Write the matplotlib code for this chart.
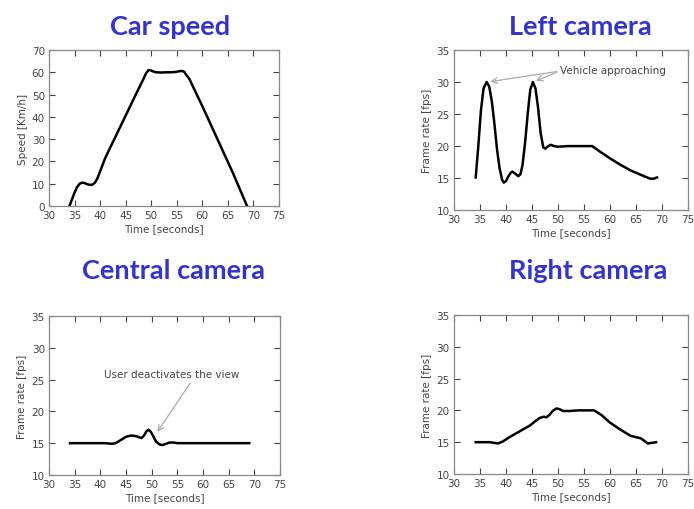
import matplotlib
matplotlib.use("Agg")
import matplotlib.pyplot as plt

# Car speed [Km/h]
speed_t = [34, 34.5, 35, 35.5, 36, 36.5, 37, 37.5, 38, 38.5, 39, 39.5, 40, 41, 43, 45, 47, 48.5,
           49, 49.5, 50, 50.5, 51, 52, 53, 54, 55, 55.5, 56, 56.5, 57, 57.5, 60, 63, 66, 68.8]
speed_v = [0, 3, 6, 8.5, 10, 10.5, 10.3, 9.8, 9.5, 9.6, 10.5, 12.5, 15.5, 21.5, 31, 40.5, 50, 57,
           59.5, 61, 60.8, 60.3, 60, 59.9, 60, 60, 60.2, 60.5, 60.6, 60.2, 58.5, 57, 45, 30, 15, 0]

# Left camera frame rate [fps]
left_t = [34.2, 34.7, 35.2, 35.7, 36.3, 36.8, 37.3, 37.8, 38.3, 38.8, 39.3, 39.6, 40, 40.5, 41, 41.3,
          41.8, 42.4, 42.8, 43.2, 43.7, 44.2, 44.7, 45.2, 45.7, 46.2, 46.7, 47.2, 47.6, 48, 48.6, 49.3,
          50, 52, 54, 56, 56.6, 58, 60, 62, 64, 66, 67.2, 67.8, 68.4, 69.1]
left_v = [15.1, 20, 25.5, 29, 30, 29.3, 27, 23.5, 19.5, 16.5, 14.7, 14.3, 14.5, 15.3, 15.9, 16,
          15.7, 15.3, 15.6, 17, 20.5, 25, 28.8, 30, 29, 26, 22, 19.8, 19.6, 19.9, 20.2, 20,
          19.9, 20, 20, 20, 20, 19.2, 18.1, 17.1, 16.2, 15.5, 15.1, 14.9, 14.9, 15.1]

# Central camera frame rate [fps]
central_t = [34.1, 36, 38, 40, 41, 42.2, 43, 44, 45, 46, 47, 48, 48.5, 49, 49.4, 49.8, 50.3, 50.8,
             51.5, 52.1, 52.8, 53.5, 54.2, 55, 58, 62, 66, 69]
central_v = [15, 15, 15, 15, 15, 14.9, 15, 15.5, 16, 16.2, 16.1, 15.8, 16.2, 16.9, 17.1, 16.8, 16.1, 15.3,
             14.8, 14.7, 14.9, 15.1, 15.1, 15, 15, 15, 15, 15]

# Right camera frame rate [fps]
right_t = [34.2, 35.5, 36.9, 38.5, 39.4, 40.5, 42, 43.5, 44.6, 45.5, 46.5, 47.3, 47.8, 48.4, 49,
           49.7, 50.3, 51, 52.2, 54, 56, 57, 58.5, 60, 62, 64, 66, 67.3, 68.2, 68.9]
right_v = [15, 15, 15, 14.8, 15.1, 15.7, 16.4, 17.1, 17.6, 18.2, 18.8, 19, 18.9, 19.3, 19.9,
           20.3, 20.2, 19.9, 19.9, 20, 20, 20, 19.2, 18.1, 17, 16, 15.6, 14.8, 14.9, 15]

xticks = [30, 35, 40, 45, 50, 55, 60, 65, 70, 75]
frame_col = "#888888"
tick_col = "#444444"
title_col = "#3434c8"

fig = plt.figure(figsize=(6.94, 5.1), dpi=100)


def style(ax, ylim, ystep, ylabel):
    ax.set_xlim(30, 75)
    ax.set_ylim(*ylim)
    ax.set_xticks(xticks)
    ax.set_yticks(range(ylim[0], ylim[1] + 1, ystep))
    ax.tick_params(direction="in", top=True, right=True, length=4, width=0.8,
                   colors=tick_col, labelsize=7.5, pad=3)
    for s in ax.spines.values():
        s.set_color(frame_col)
        s.set_linewidth(0.9)
    ax.set_xlabel("Time [seconds]", fontsize=7.5, color=tick_col, labelpad=2)
    ax.set_ylabel(ylabel, fontsize=7.5, color=tick_col, labelpad=3)


ax1 = fig.add_axes([0.0706, 0.594, 0.331, 0.306])
ax1.plot(speed_t, speed_v, color="black", lw=1.8)
style(ax1, (0, 70), 10, "Speed [Km/h]")

ax2 = fig.add_axes([0.654, 0.586, 0.337, 0.314])
ax2.plot(left_t, left_v, color="black", lw=1.8)
style(ax2, (10, 35), 5, "Frame rate [fps]")
for px, py in [(36.5, 30), (45.3, 30)]:
    ax2.annotate("", xy=(px, py), xytext=(50.3, 31.7),
                 arrowprops=dict(arrowstyle="->", color="#aaaaaa", lw=0.9))
ax2.text(50.4, 31.8, "Vehicle approaching", fontsize=7.5, color=tick_col, va="center")

ax3 = fig.add_axes([0.0706, 0.0667, 0.333, 0.312])
ax3.plot(central_t, central_v, color="black", lw=1.8)
style(ax3, (10, 35), 5, "Frame rate [fps]")
ax3.annotate("", xy=(50.8, 16.4), xytext=(57.8, 24.8),
             arrowprops=dict(arrowstyle="->", color="#aaaaaa", lw=0.9))
ax3.text(53.9, 25.9, "User deactivates the view", fontsize=7.5, color=tick_col,
         ha="center", va="center")

ax4 = fig.add_axes([0.654, 0.0686, 0.337, 0.312])
ax4.plot(right_t, right_v, color="black", lw=1.8)
style(ax4, (10, 35), 5, "Frame rate [fps]")

title_kw = dict(fontsize=19.5, fontweight="bold", color=title_col, family="Lato",
                ha="center", va="baseline")
fig.text(170 / 694, 1 - 35 / 510, "Car speed", **title_kw)
fig.text(580 / 694, 1 - 35 / 510, "Left camera", **title_kw)
fig.text(174 / 694, 1 - 279 / 510, "Central camera", **title_kw)
fig.text(588 / 694, 1 - 279 / 510, "Right camera", **title_kw)

fig.savefig("out.png", dpi=100)
